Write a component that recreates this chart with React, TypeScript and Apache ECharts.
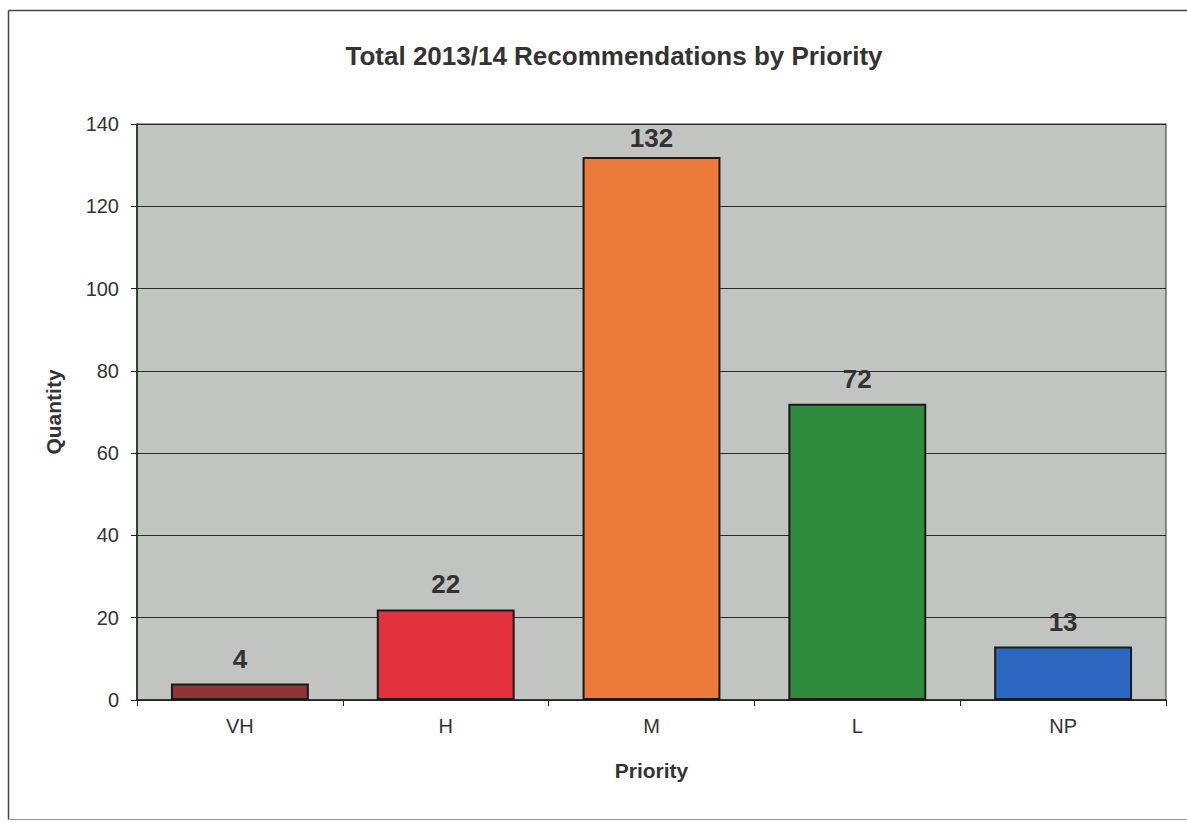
import React, { useEffect, useRef } from "react";
import * as echarts from "echarts";

const categories = ["VH", "H", "M", "L", "NP"];
const quantities = [4, 22, 132, 72, 13];
const barColors = ["#8e3538", "#e2313d", "#ec7a3a", "#2f8a3b", "#2e67c2"];
const titleText = "Total 2013/14 Recommendations by Priority";
const yAxisName = "Quantity";
const xAxisName = "Priority";

export default function App() {
  const ref = useRef<HTMLDivElement>(null);
  useEffect(() => {
    if (!ref.current) return;
    const chart = echarts.init(ref.current, null, { renderer: "svg" });
    const font = "Arial, 'Liberation Sans', sans-serif";
    chart.setOption({
      animation: false,
      backgroundColor: "#ffffff",
      title: {
        text: titleText,
        left: 609,
        top: 38,
        textAlign: "center",
        textStyle: { fontFamily: font, fontSize: 26, fontWeight: "bold", color: "#333333" },
      },
      graphic: [
        { type: "line", shape: { x1: 8.5, y1: 10.5, x2: 1187, y2: 10.5 }, style: { stroke: "#444", lineWidth: 1.5 } },
        { type: "line", shape: { x1: 8.5, y1: 10.5, x2: 8.5, y2: 819.5 }, style: { stroke: "#444", lineWidth: 1.5 } },
        { type: "line", shape: { x1: 8.5, y1: 819.5, x2: 1187, y2: 819.5 }, style: { stroke: "#999", lineWidth: 1 } },
      ],
      grid: {
        left: 137,
        right: 21,
        top: 124,
        bottom: 122,
        show: true,
        backgroundColor: "#c1c4c1",
        borderColor: "#333333",
        borderWidth: 1,
      },
      xAxis: {
        type: "category",
        data: categories,
        name: xAxisName,
        nameLocation: "middle",
        nameGap: 60,
        nameTextStyle: { fontFamily: font, fontSize: 21, fontWeight: "bold", color: "#333333" },
        axisLine: { show: true, lineStyle: { color: "#222", width: 1.5 } },
        axisTick: { show: true, length: 6, lineStyle: { color: "#222" } },
        axisLabel: { fontFamily: font, fontSize: 20, color: "#333333", margin: 16 },
      },
      yAxis: {
        type: "value",
        min: 0,
        max: 140,
        interval: 20,
        name: yAxisName,
        nameLocation: "middle",
        nameGap: 73,
        nameTextStyle: { fontFamily: font, fontSize: 21, fontWeight: "bold", color: "#333333" },
        axisLine: { show: true, lineStyle: { color: "#222", width: 1.5 } },
        axisTick: { show: true, length: 6, lineStyle: { color: "#222" } },
        axisLabel: { fontFamily: font, fontSize: 20, color: "#333333", margin: 18 },
        splitLine: { show: true, lineStyle: { color: "#2a2a2a", width: 1 } },
      },
      series: [
        {
          type: "bar",
          data: quantities.map((v, i) => ({
            value: v,
            itemStyle: { color: barColors[i] },
            label: v === 132 ? { distance: 6 } : undefined,
          })),
          barCategoryGap: "33%",
          itemStyle: { borderColor: "#1a1a1a", borderWidth: 2 },
          label: {
            show: true,
            position: "top",
            distance: 12,
            fontFamily: font,
            fontSize: 26,
            fontWeight: "bold",
            color: "#333333",
          },
        },
      ],
    });
    return () => chart.dispose();
  }, []);
  return (
    <div
      ref={ref}
      style={{ position: "fixed", left: 0, top: 0, width: 1187, height: 822 }}
    />
  );
}
